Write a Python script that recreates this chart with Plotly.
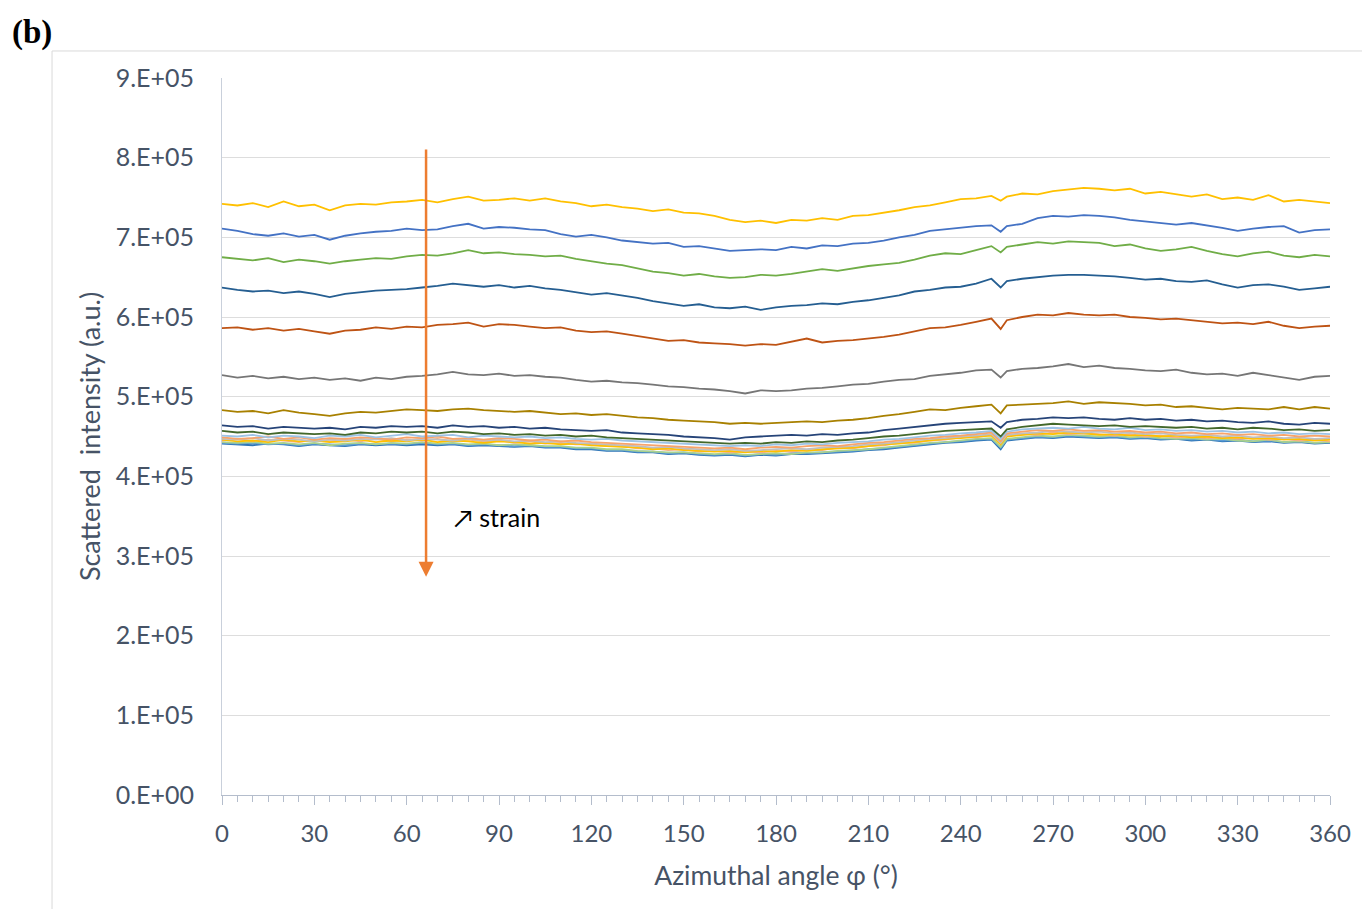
import plotly.graph_objects as go

# azimuthal angle samples (deg)
angle = list(range(0, 251, 5)) + [253] + list(range(255, 361, 5))

# scattered intensity, in units of 1e3 (a.u.)
yellow_k = [742,740,743,738,745,739,741,734,740,742,
            741,744,745,747,744,748,751,746,747,749,
            746,749,745,743,739,741,738,736,733,735,
            731,730,727,722,719,721,718,722,721,724,
            722,727,728,731,734,738,740,744,748,749,
            752,746,751,755,754,758,760,762,761,759,
            761,755,757,754,751,754,748,750,747,753,
            745,747,745,743]
blue_k = [711,708,704,702,705,701,703,697,702,705,
          707,708,711,709,710,714,717,711,713,712,
          710,709,704,701,703,700,696,694,692,693,
          688,689,686,683,684,685,684,688,686,690,
          689,692,693,696,700,703,708,710,712,714,
          715,707,714,717,724,727,726,728,727,725,
          722,720,718,716,718,715,712,708,711,713,
          714,706,709,710]
green_k = [675,673,671,674,669,672,670,667,670,672,
           674,673,676,678,677,680,684,680,681,679,
           678,676,677,673,670,667,665,661,657,655,
           652,654,651,649,650,653,652,654,657,660,
           658,661,664,666,668,672,677,680,679,684,
           689,681,688,691,694,692,695,694,693,689,
           691,686,683,685,688,683,679,676,680,682,
           677,675,678,676]
darkblue_k = [637,634,632,633,630,632,629,625,629,631,
              633,634,635,637,639,642,640,638,640,637,
              639,636,634,631,628,630,627,624,620,617,
              614,616,612,611,613,609,612,614,615,617,
              616,619,621,624,627,632,634,637,638,642,
              648,637,645,648,650,652,653,653,652,651,
              649,647,648,645,644,646,641,637,640,641,
              638,634,636,638]
brown_k = [586,587,584,586,583,585,582,579,583,584,
           587,585,588,587,590,591,593,588,591,590,
           588,586,587,583,581,582,579,576,573,570,
           571,568,567,566,564,566,565,569,573,568,
           570,571,573,575,578,582,586,587,590,594,
           598,585,596,600,603,602,605,603,602,603,
           600,599,597,598,596,594,592,593,591,594,
           589,586,588,589]
gray_k = [527,524,526,523,525,522,524,521,523,520,
          524,522,525,526,528,531,528,527,529,526,
          527,525,524,521,519,520,518,517,515,513,
          512,510,509,507,504,508,507,508,510,511,
          513,515,516,519,521,522,526,528,530,533,
          534,524,532,535,536,538,541,537,539,536,
          535,533,532,534,530,528,529,526,530,527,
          524,521,525,526]
olive_k = [483,481,482,479,483,480,478,476,479,481,
           480,482,484,483,482,484,485,483,482,481,
           482,480,478,479,477,478,476,474,473,471,
           470,469,468,466,467,466,467,468,469,468,
           470,471,473,476,478,481,484,483,486,488,
           490,479,489,490,491,492,494,491,493,492,
           491,489,490,487,488,486,484,486,485,484,
           487,484,487,485]
navy_k = [464,462,463,460,462,461,460,461,459,462,
          461,463,462,463,461,464,462,463,461,462,
          460,461,459,458,457,458,455,454,453,452,
          450,449,448,446,449,450,451,452,451,453,
          452,454,455,458,460,462,464,466,467,468,
          469,461,468,471,472,474,473,474,472,471,
          473,471,472,470,471,469,470,468,467,469,
          466,465,467,466]
darkgreen_k = [457,455,456,453,455,454,453,454,452,455,
               454,456,455,456,454,456,455,453,454,452,
               453,451,452,450,451,449,448,447,446,445,
               444,443,442,441,442,441,443,442,444,443,
               445,446,448,450,451,453,455,457,458,459,
               460,450,459,462,464,466,465,464,463,464,
               462,463,462,461,462,460,461,459,461,460,
               458,459,457,458]
lightblue_k = [451,450,452,449,451,450,448,451,450,452,
               449,451,453,450,451,452,449,451,450,449,
               450,448,449,447,446,447,445,444,443,442,
               441,440,439,438,439,438,440,439,441,440,
               442,443,444,446,447,449,451,452,454,455,
               457,447,456,459,460,461,460,462,460,459,
               461,458,459,457,458,456,457,455,456,454,
               455,453,454,453]
lightorange_k = [449,447,448,450,447,449,446,448,447,449,
                 448,446,449,448,450,447,448,446,448,447,
                 445,446,444,445,443,442,441,440,439,438,
                 437,436,435,436,434,436,437,436,438,439,
                 438,440,442,443,445,447,448,450,451,453,
                 455,444,454,456,458,457,459,457,458,456,
                 457,455,456,454,455,453,454,452,453,451,
                 452,450,451,450]
lightgray_k = [447,446,448,445,447,446,444,446,445,447,
               446,448,445,447,446,445,447,445,446,444,
               445,443,444,442,441,440,439,438,436,437,
               435,434,433,434,432,433,434,435,434,436,
               437,438,440,441,443,445,447,448,450,451,
               453,442,452,454,455,457,456,455,456,454,
               455,453,454,452,451,452,450,451,449,450,
               448,449,447,448]
gold_k = [446,444,445,443,446,444,445,443,444,446,
          443,445,444,446,443,445,444,442,444,443,
          441,442,440,441,439,438,437,436,434,435,
          433,432,431,432,430,432,431,433,432,434,
          435,436,438,440,441,443,445,447,448,450,
          451,440,450,452,454,453,455,454,452,453,
          451,452,450,451,449,450,448,449,447,448,
          446,447,445,446]
orange_k = [445,447,444,446,445,443,446,444,446,444,
            447,444,446,445,447,444,446,444,445,442,
            444,441,442,440,440,438,438,435,435,433,
            434,431,432,430,431,430,432,431,433,433,
            436,435,438,439,442,442,445,446,449,449,
            452,441,451,453,452,455,453,454,453,451,
            453,450,451,449,450,448,449,447,448,446,
            447,445,446,444]
lightgreen_k = [443,442,443,441,442,440,442,439,441,442,
                440,442,441,443,441,442,440,441,439,440,
                439,438,438,436,436,434,434,432,431,430,
                430,429,428,429,427,428,429,428,430,430,
                432,433,434,436,438,440,442,443,445,447,
                448,437,447,449,451,450,452,451,450,451,
                449,450,448,447,448,446,447,445,444,446,
                443,444,442,443]
midblue_k = [442,441,442,440,441,439,441,440,439,441,
             440,441,440,442,440,441,439,440,439,438,
             439,437,437,435,435,433,433,431,431,429,
             430,428,427,428,426,428,427,429,429,430,
             431,432,434,435,437,439,441,443,444,446,
             447,436,446,448,450,449,451,450,449,450,
             448,449,447,448,446,447,445,446,444,445,
             443,444,442,443]
steelblue_k = [441,440,439,441,440,438,440,439,438,440,
               439,440,439,440,439,440,438,439,438,437,
               438,436,436,434,434,432,432,430,430,428,
               429,427,426,427,425,427,426,428,428,429,
               430,431,433,434,436,438,440,442,443,445,
               446,434,445,447,449,448,450,449,448,449,
               447,448,446,447,445,446,444,445,443,444,
               442,443,441,442]

series = [
    ("s1", steelblue_k, "#2E75B6"),
    ("s2", midblue_k, "#5B9BD5"),
    ("s3", lightgreen_k, "#A9D18E"),
    ("s4", orange_k, "#F4B183"),
    ("s5", gold_k, "#FFC000"),
    ("s6", lightgray_k, "#BFBFBF"),
    ("s7", lightorange_k, "#F8A46A"),
    ("s8", lightblue_k, "#9DC3E6"),
    ("s9", darkgreen_k, "#43682B"),
    ("s10", navy_k, "#264478"),
    ("s11", olive_k, "#A88000"),
    ("s12", gray_k, "#767676"),
    ("s13", brown_k, "#BE5314"),
    ("s14", darkblue_k, "#255E91"),
    ("s15", green_k, "#70AD47"),
    ("s16", blue_k, "#4472C4"),
    ("s17", yellow_k, "#FFC000"),
]

fig = go.Figure()
for name, vals, col in series:
    fig.add_trace(go.Scatter(
        x=angle, y=[v * 1000 for v in vals], mode="lines", name=name,
        line=dict(color=col, width=1.8), showlegend=False, hoverinfo="skip"))

TXT = "#465366"
FONT = "Lato"
ytick_vals = [i * 100000 for i in range(10)]
ytick_text = ["0.E+00", "1.E+05", "2.E+05", "3.E+05", "4.E+05",
              "5.E+05", "6.E+05", "7.E+05", "8.E+05", "9.E+05"]

fig.update_layout(
    width=1362, height=901, autosize=False,
    paper_bgcolor="white", plot_bgcolor="white",
    margin=dict(l=214, r=40, t=70, b=114),
    font=dict(family=FONT, size=24, color=TXT),
    xaxis=dict(
        range=[0, 360], tickmode="array",
        tickvals=[0, 30, 60, 90, 120, 150, 180, 210, 240, 270, 300, 330, 360],
        ticks="outside", ticklen=9, tickcolor="#B4BDCC", tickwidth=1,
        minor=dict(dtick=5, ticks="outside", ticklen=6, tickcolor="#B4BDCC", tickwidth=1),
        showline=True, linecolor="#B4BDCC", linewidth=1,
        showgrid=False, zeroline=False,
        ticklabelstandoff=8,
        tickfont=dict(family=FONT, size=24, color=TXT),
        title=dict(text="Azimuthal angle φ (°)", font=dict(family=FONT, size=26.5, color=TXT), standoff=20),
    ),
    yaxis=dict(
        range=[0, 900000], tickmode="array", tickvals=ytick_vals, ticktext=ytick_text,
        ticks="", showline=True, linecolor="#C9D0DB", linewidth=1,
        showgrid=True, gridcolor="#DDDDDD", gridwidth=1, zeroline=False,
        ticklabelstandoff=22,
        tickfont=dict(family=FONT, size=25, color=TXT),
        title=dict(text="Scattered  intensity (a.u.)", font=dict(family=FONT, size=27, color=TXT), standoff=7),
    ),
    shapes=[
        dict(type="line", xref="paper", yref="paper", x0=-0.1534, x1=1.1, y0=1.0377, y1=1.0377,
             line=dict(color="#D9D9D9", width=1)),
        dict(type="line", xref="paper", yref="paper", x0=-0.1534, x1=-0.1534, y0=1.0377, y1=-0.2,
             line=dict(color="#D9D9D9", width=1)),
    ],
    annotations=[
        dict(text="<b>(b)</b>", xref="paper", yref="paper", x=-0.1913, y=1.064,
             xanchor="left", yanchor="middle", showarrow=False,
             font=dict(family="Liberation Serif", size=33, color="black")),
        dict(text="", xref="x", yref="y", axref="x", ayref="y",
             x=66.3, y=274000, ax=66.3, ay=812000, showarrow=True,
             arrowhead=2, arrowsize=1.2, arrowwidth=2.5, arrowcolor="#ED7D31"),
        dict(text="↗ strain", xref="x", yref="y", x=74.7, y=349000,
             xanchor="left", yanchor="middle", showarrow=False,
             font=dict(family=FONT, size=25, color="black")),
    ],
)

fig.write_html("out.html")
